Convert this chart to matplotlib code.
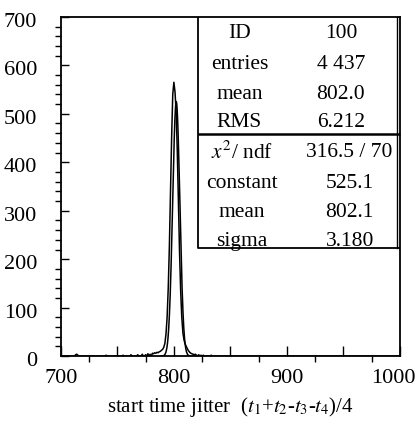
import numpy as np
import matplotlib
matplotlib.use("Agg")
import matplotlib.pyplot as plt
import matplotlib.transforms as mtransforms

plt.rcParams['font.family'] = ['Liberation Serif', 'DejaVu Serif']
plt.rcParams['mathtext.fontset'] = 'stix'

# histogram, 1-unit bins, only non-empty bins listed
hist_x = [712, 713, 714, 715, 716, 740, 755, 762, 768, 772, 775, 777, 779, 781, 782,
          783, 784, 785, 786, 787, 788, 789, 790, 791, 792, 793, 794, 795, 796, 797,
          798, 799, 800, 801, 802, 803, 804, 805, 806, 807, 808, 809, 810, 811, 812,
          813, 814, 815, 816, 817, 818, 819, 820, 822, 824, 826, 829, 833, 838]
hist_y = [0, 3, 4, 2, 0, 2, 2, 3, 3, 4, 3, 5, 4, 6, 5,
          7, 6, 8, 7, 9, 10, 12, 14, 18, 26, 45, 80, 140, 225, 335,
          450, 540, 565, 545, 505, 425, 320, 215, 135, 80, 48, 33, 25, 20, 15,
          11, 8, 6, 5, 4, 3, 4, 2, 3, 2, 2, 1, 2, 0]

# fit results
fit_const = 525.1
fit_mean = 802.1
fit_sigma = 3.180

stat_labels = ["ID", "entries", "mean", "RMS"]
stat_values = ["100", "4 437", "802.0", "6.212"]
fit_labels = [r"$x^2$/ ndf", "constant", "mean", "sigma"]
fit_values = ["316.5 / 70", "525.1", "802.1", "3.180"]

fig = plt.figure(figsize=(4.2, 4.21), dpi=100)
ax = fig.add_axes([0.145, 0.154, 0.807, 0.806])

# histogram as a full 700-1000 polyline
xs = np.arange(700, 1001)
ys = np.zeros(len(xs))
for x, y in zip(hist_x, hist_y):
    ys[x - 700] = y
ax.plot(xs, ys, color='black', lw=1.1)

xf = np.linspace(788, 818, 300)
ax.plot(xf, fit_const * np.exp(-0.5 * ((xf - fit_mean) / fit_sigma) ** 2), color='black', lw=1.1)

ax.set_xlim(700, 1000)
ax.set_ylim(0, 700)
ax.set_xticks(np.arange(700, 1001, 50))
ax.set_xticklabels(["700", "", "800", "", "900", "", "1000"])
ax.set_xticks(np.arange(725, 1000, 50), minor=True)
ax.set_yticks(np.arange(0, 701, 100))
ax.set_yticks(np.arange(0, 701, 20), minor=True)
ax.tick_params(direction='in', labelsize=16, color='black')
ax.tick_params(axis='x', which='major', length=7, width=1, pad=9)
ax.tick_params(axis='x', which='minor', length=4, width=1)
ax.tick_params(axis='y', which='major', length=6, width=1, pad=17)
ax.tick_params(axis='y', which='minor', length=4, width=1)
for s in ax.spines.values():
    s.set_linewidth(1.3)

# small label offsets as in the original
for lab in ax.get_yticklabels():
    lab.set_transform(lab.get_transform() + mtransforms.ScaledTranslation(0, -3 / 100, fig.dpi_scale_trans))
xl = ax.get_xticklabels()
xl[-1].set_transform(xl[-1].get_transform() + mtransforms.ScaledTranslation(-6 / 100, 0, fig.dpi_scale_trans))

ax.set_xlabel(r"start time jitter  ($t_1$+$t_2$-$t_3$-$t_4$)/4", fontsize=15, labelpad=5)

# stats box
bx0, by0, by1, bmid = 0.404, 0.319, 1.0, 0.655
ax.plot([bx0, bx0, 1.0], [by1, by0, by0], transform=ax.transAxes, color='black', lw=1.3,
        clip_on=False, solid_capstyle='butt')
ax.plot([bx0, 1.0], [bmid, bmid], transform=ax.transAxes, color='black', lw=1.8,
        clip_on=False, solid_capstyle='butt')
ax.plot([0.992, 0.992], [by0, by1], transform=ax.transAxes, color='black', lw=1.0, clip_on=False)

row_y = [0.951, 0.861, 0.772, 0.690]
for lab, val, yy in zip(stat_labels, stat_values, row_y):
    ax.text(0.527, yy, lab, transform=ax.transAxes, ha='center', va='center', fontsize=15.5)
    ax.text(0.826, yy, val, transform=ax.transAxes, ha='center', va='center', fontsize=15.5)
row_y2 = [0.600, 0.508, 0.423, 0.337]
for lab, val, yy in zip(fit_labels, fit_values, row_y2):
    ax.text(0.535, yy, lab, transform=ax.transAxes, ha='center', va='center', fontsize=15.5)
    ax.text(0.852, yy, val, transform=ax.transAxes, ha='center', va='center', fontsize=15.5)

fig.savefig("out.png", dpi=100)
